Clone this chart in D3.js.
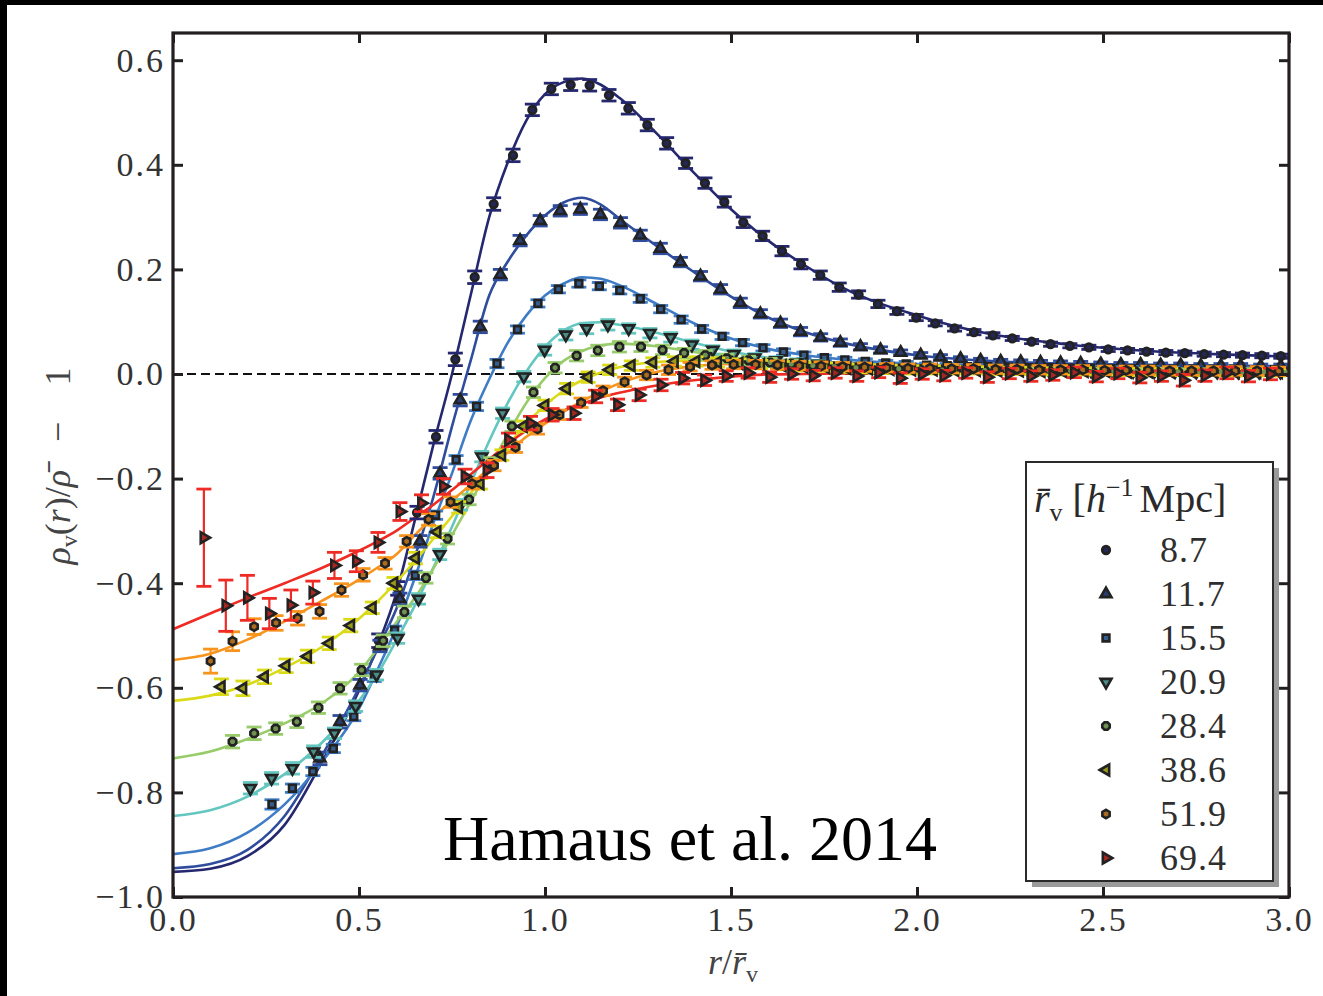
<!DOCTYPE html>
<html>
<head>
<meta charset="utf-8">
<script src="https://cdn.jsdelivr.net/npm/d3@7"></script>
<style>
  body { margin: 0; background: #fff; }
  svg { display: block; }
  text { font-family: 'Liberation Serif', 'DejaVu Serif', serif; }
</style>
</head>
<body>
<svg id="chart" width="1323" height="996"></svg>
<script>
// void radius bins (legend labels, h^-1 Mpc)
const voidRadii = ['8.7', '11.7', '15.5', '20.9', '28.4', '38.6', '51.9', '69.4'];

// axis ticks
const xTicks = [0, 0.5, 1.0, 1.5, 2.0, 2.5, 3.0];
const yTicks = [-1.0, -0.8, -0.6, -0.4, -0.2, 0.0, 0.2, 0.4, 0.6];

// fitted profiles on a common r/rv grid
const fitR = [0, 0.1, 0.2, 0.3, 0.4, 0.5, 0.55, 0.6, 0.65, 0.7, 0.75, 0.8, 0.85, 0.9, 0.95, 1.0,
  1.05, 1.1, 1.15, 1.2, 1.3, 1.4, 1.5, 1.6, 1.7, 1.8, 2.0, 2.2, 2.4, 2.6, 2.8, 3.0];
const fit87 = [-0.952, -0.946, -0.922, -0.862, -0.742, -0.605, -0.52, -0.42, -0.28, -0.135, 0.0, 0.15, 0.30, 0.405, 0.485, 0.535,
  0.558, 0.565, 0.553, 0.528, 0.46, 0.385, 0.315, 0.255, 0.207, 0.165, 0.112, 0.076, 0.057, 0.045, 0.038, 0.033];
const fit117 = [-0.945, -0.937, -0.91, -0.845, -0.73, -0.6, -0.525, -0.45, -0.35, -0.235, -0.1, 0.025, 0.15, 0.215, 0.265, 0.303,
  0.328, 0.337, 0.324, 0.297, 0.245, 0.195, 0.148, 0.108, 0.08, 0.06, 0.036, 0.025, 0.02, 0.018, 0.016, 0.015];
const fit155 = [-0.918, -0.907, -0.877, -0.823, -0.742, -0.64, -0.565, -0.485, -0.39, -0.285, -0.19, -0.09, -0.01, 0.06, 0.112, 0.15,
  0.173, 0.185, 0.182, 0.17, 0.134, 0.097, 0.068, 0.048, 0.036, 0.028, 0.019, 0.014, 0.012, 0.01, 0.009, 0.008];
const fit209 = [-0.845, -0.834, -0.808, -0.765, -0.705, -0.625, -0.573, -0.51, -0.443, -0.37, -0.292, -0.21, -0.128, -0.055, 0.005, 0.052,
  0.083, 0.097, 0.099, 0.094, 0.079, 0.06, 0.043, 0.031, 0.023, 0.018, 0.012, 0.009, 0.007, 0.006, 0.005, 0.005];
const fit284 = [-0.735, -0.722, -0.698, -0.668, -0.63, -0.57, -0.525, -0.475, -0.428, -0.372, -0.308, -0.245, -0.18, -0.115, -0.055, -0.008,
  0.025, 0.044, 0.055, 0.058, 0.053, 0.042, 0.031, 0.023, 0.018, 0.014, 0.01, 0.007, 0.006, 0.005, 0.004, 0.004];
const fit386 = [-0.625, -0.615, -0.594, -0.562, -0.522, -0.468, -0.435, -0.398, -0.358, -0.315, -0.272, -0.228, -0.183, -0.138, -0.095, -0.06,
  -0.032, -0.012, 0.003, 0.013, 0.023, 0.026, 0.025, 0.021, 0.017, 0.014, 0.01, 0.007, 0.006, 0.005, 0.004, 0.004];
const fit519 = [-0.547, -0.535, -0.508, -0.473, -0.434, -0.393, -0.37, -0.345, -0.308, -0.274, -0.242, -0.212, -0.18, -0.15, -0.12, -0.095,
  -0.072, -0.052, -0.034, -0.018, 0.004, 0.015, 0.019, 0.019, 0.017, 0.015, 0.012, 0.01, 0.008, 0.007, 0.006, 0.006];
const fit694 = [-0.488, -0.458, -0.428, -0.4, -0.371, -0.338, -0.32, -0.3, -0.275, -0.25, -0.222, -0.192, -0.163, -0.134, -0.108, -0.087,
  -0.07, -0.057, -0.045, -0.036, -0.022, -0.012, -0.005, -0.001, 0.0, 0.001, 0.002, 0.002, 0.002, 0.002, 0.002, 0.002];

// measured profiles: bin centres, density contrast, 1-sigma errors
const r87 = [0.553, 0.604, 0.656, 0.707, 0.759, 0.811, 0.862, 0.914, 0.966, 1.017, 1.069, 1.120, 1.172, 1.224, 1.275, 1.327,
  1.378, 1.430, 1.482, 1.533, 1.585, 1.637, 1.688, 1.740, 1.791, 1.843, 1.895, 1.946, 1.998, 2.049, 2.101, 2.153,
  2.204, 2.256, 2.308, 2.359, 2.411, 2.462, 2.514, 2.566, 2.617, 2.669, 2.720, 2.772, 2.824, 2.875, 2.927, 2.978];
const d87 = [-0.51, -0.41, -0.265, -0.12, 0.028, 0.185, 0.325, 0.418, 0.505, 0.545, 0.553, 0.552, 0.533, 0.508, 0.476, 0.441,
  0.403, 0.365, 0.329, 0.29, 0.264, 0.235, 0.21, 0.189, 0.166, 0.152, 0.134, 0.12, 0.108, 0.097, 0.087, 0.08,
  0.074, 0.068, 0.062, 0.057, 0.054, 0.051, 0.047, 0.045, 0.043, 0.041, 0.04, 0.038, 0.037, 0.036, 0.035, 0.034];
const e87 = [0.013, 0.013, 0.012, 0.012, 0.012, 0.012, 0.012, 0.012, 0.011, 0.011, 0.011, 0.011, 0.011, 0.011, 0.011, 0.011,
  0.01, 0.01, 0.01, 0.01, 0.009, 0.009, 0.009, 0.008, 0.008, 0.007, 0.007, 0.006, 0.006, 0.005, 0.005, 0.005,
  0.005, 0.004, 0.004, 0.004, 0.004, 0.004, 0.004, 0.004, 0.004, 0.004, 0.004, 0.004, 0.004, 0.004, 0.004, 0.004];

const r117 = [0.395, 0.449, 0.503, 0.556, 0.610, 0.664, 0.718, 0.772, 0.826, 0.880, 0.933, 0.987, 1.041, 1.095, 1.149, 1.203,
  1.256, 1.310, 1.364, 1.418, 1.472, 1.525, 1.579, 1.633, 1.687, 1.741, 1.794, 1.848, 1.902, 1.956, 2.010, 2.063,
  2.117, 2.171, 2.225, 2.279, 2.332, 2.386, 2.440, 2.494, 2.548, 2.601, 2.655, 2.709, 2.763, 2.817, 2.870, 2.924, 2.978];
const d117 = [-0.735, -0.665, -0.595, -0.52, -0.43, -0.32, -0.19, -0.05, 0.09, 0.19, 0.255, 0.293, 0.312, 0.315, 0.305, 0.289,
  0.265, 0.24, 0.214, 0.187, 0.162, 0.136, 0.115, 0.097, 0.081, 0.07, 0.06, 0.052, 0.046, 0.041, 0.036, 0.032,
  0.029, 0.026, 0.024, 0.023, 0.022, 0.021, 0.02, 0.019, 0.018, 0.018, 0.017, 0.017, 0.016, 0.016, 0.016, 0.015, 0.015];
const e117 = [0.012, 0.012, 0.011, 0.011, 0.011, 0.011, 0.011, 0.011, 0.011, 0.01, 0.01, 0.01, 0.01, 0.01, 0.01, 0.01,
  0.01, 0.01, 0.009, 0.009, 0.009, 0.009, 0.008, 0.008, 0.008, 0.007, 0.007, 0.006, 0.006, 0.005, 0.005, 0.005,
  0.004, 0.004, 0.004, 0.004, 0.004, 0.004, 0.004, 0.004, 0.004, 0.004, 0.004, 0.004, 0.004, 0.004, 0.004, 0.004, 0.004];

const r155 = [0.266, 0.321, 0.376, 0.431, 0.486, 0.541, 0.596, 0.651, 0.706, 0.761, 0.816, 0.871, 0.926, 0.981, 1.036, 1.091,
  1.146, 1.201, 1.256, 1.311, 1.366, 1.421, 1.476, 1.531, 1.586, 1.641, 1.696, 1.751, 1.806, 1.861, 1.916, 1.971,
  2.026, 2.081, 2.136, 2.191, 2.246, 2.301, 2.356, 2.411, 2.466, 2.521, 2.576, 2.631, 2.686, 2.741, 2.796, 2.851, 2.906, 2.961];
const d155 = [-0.823, -0.792, -0.76, -0.716, -0.655, -0.58, -0.49, -0.385, -0.27, -0.164, -0.062, 0.02, 0.085, 0.135, 0.162, 0.173,
  0.168, 0.16, 0.144, 0.124, 0.104, 0.086, 0.072, 0.06, 0.05, 0.042, 0.036, 0.031, 0.027, 0.024, 0.021, 0.019,
  0.017, 0.016, 0.014, 0.014, 0.013, 0.012, 0.012, 0.011, 0.011, 0.01, 0.01, 0.01, 0.009, 0.009, 0.009, 0.009, 0.008, 0.008];
const e155 = [0.009, 0.008, 0.008, 0.008, 0.008, 0.008, 0.008, 0.008, 0.008, 0.008, 0.008, 0.008, 0.007, 0.007, 0.007, 0.007,
  0.007, 0.007, 0.007, 0.007, 0.007, 0.007, 0.006, 0.006, 0.006, 0.006, 0.006, 0.005, 0.005, 0.005, 0.005, 0.005,
  0.004, 0.004, 0.004, 0.004, 0.004, 0.004, 0.004, 0.004, 0.004, 0.004, 0.004, 0.004, 0.004, 0.004, 0.004, 0.004, 0.004, 0.004];

const r209 = [0.208, 0.265, 0.321, 0.378, 0.434, 0.491, 0.547, 0.604, 0.660, 0.717, 0.773, 0.830, 0.886, 0.943, 0.999, 1.056,
  1.112, 1.169, 1.225, 1.282, 1.338, 1.395, 1.451, 1.508, 1.564, 1.621, 1.677, 1.734, 1.790, 1.847, 1.903, 1.960,
  2.016, 2.073, 2.129, 2.186, 2.242, 2.299, 2.355, 2.412, 2.468, 2.525, 2.581, 2.638, 2.694, 2.751, 2.807, 2.864, 2.920, 2.977];
const d209 = [-0.792, -0.773, -0.754, -0.722, -0.687, -0.635, -0.575, -0.505, -0.43, -0.345, -0.25, -0.158, -0.075, -0.005, 0.046, 0.075,
  0.087, 0.094, 0.087, 0.078, 0.07, 0.056, 0.046, 0.038, 0.031, 0.026, 0.022, 0.019, 0.016, 0.014, 0.012, 0.011,
  0.01, 0.009, 0.008, 0.008, 0.007, 0.007, 0.006, 0.006, 0.006, 0.005, 0.005, 0.005, 0.005, 0.004, 0.004, 0.004, 0.004, 0.004];
const e209 = [0.011, 0.011, 0.011, 0.011, 0.01, 0.01, 0.01, 0.01, 0.01, 0.01, 0.01, 0.01, 0.01, 0.01, 0.01, 0.01,
  0.01, 0.01, 0.009, 0.009, 0.009, 0.009, 0.008, 0.008, 0.008, 0.007, 0.007, 0.007, 0.006, 0.006, 0.006, 0.005,
  0.005, 0.005, 0.005, 0.005, 0.005, 0.005, 0.005, 0.005, 0.005, 0.005, 0.005, 0.005, 0.005, 0.005, 0.005, 0.005, 0.005, 0.005];

const r284 = [0.160, 0.218, 0.276, 0.333, 0.391, 0.449, 0.507, 0.565, 0.622, 0.680, 0.738, 0.796, 0.854, 0.911, 0.969, 1.027,
  1.085, 1.142, 1.200, 1.258, 1.316, 1.374, 1.431, 1.489, 1.547, 1.605, 1.662, 1.720, 1.778, 1.836, 1.894, 1.951,
  2.009, 2.067, 2.125, 2.182, 2.240, 2.298, 2.356, 2.413, 2.471, 2.529, 2.587, 2.644, 2.702, 2.760, 2.818, 2.876, 2.933, 2.991];
const d284 = [-0.703, -0.687, -0.678, -0.665, -0.638, -0.601, -0.566, -0.51, -0.455, -0.39, -0.315, -0.24, -0.17, -0.1, -0.035, 0.012,
  0.035, 0.045, 0.052, 0.052, 0.046, 0.04, 0.036, 0.03, 0.026, 0.022, 0.019, 0.016, 0.014, 0.012, 0.011, 0.01,
  0.009, 0.008, 0.008, 0.007, 0.007, 0.006, 0.006, 0.006, 0.005, 0.005, 0.005, 0.005, 0.004, 0.004, 0.004, 0.004, 0.004, 0.004];
const e284 = [0.012, 0.012, 0.011, 0.011, 0.011, 0.011, 0.011, 0.011, 0.011, 0.01, 0.01, 0.01, 0.01, 0.01, 0.01, 0.01,
  0.01, 0.01, 0.01, 0.009, 0.009, 0.009, 0.009, 0.008, 0.008, 0.008, 0.008, 0.007, 0.007, 0.007, 0.006, 0.006,
  0.006, 0.006, 0.006, 0.006, 0.006, 0.006, 0.006, 0.006, 0.006, 0.006, 0.006, 0.006, 0.006, 0.006, 0.006, 0.006, 0.006, 0.006];

const r386 = [0.130, 0.188, 0.246, 0.304, 0.362, 0.420, 0.478, 0.536, 0.594, 0.652, 0.710, 0.768, 0.826, 0.884, 0.942, 1.000,
  1.058, 1.116, 1.174, 1.232, 1.290, 1.348, 1.406, 1.464, 1.522, 1.580, 1.638, 1.696, 1.754, 1.812, 1.870, 1.928,
  1.986, 2.044, 2.102, 2.160, 2.218, 2.276, 2.334, 2.392, 2.450, 2.508, 2.566, 2.624, 2.682, 2.740, 2.798, 2.856, 2.914, 2.972];
const d386 = [-0.598, -0.601, -0.579, -0.558, -0.54, -0.515, -0.481, -0.447, -0.4, -0.352, -0.302, -0.255, -0.21, -0.155, -0.1, -0.06,
  -0.028, -0.006, 0.008, 0.016, 0.022, 0.024, 0.024, 0.022, 0.02, 0.018, 0.016, 0.014, 0.013, 0.011, 0.01, 0.009,
  0.008, 0.008, 0.007, 0.007, 0.006, 0.006, 0.005, 0.005, 0.005, 0.005, 0.004, 0.004, 0.004, 0.004, 0.004, 0.003, 0.003, 0.003];
const e386 = [0.015, 0.014, 0.013, 0.013, 0.012, 0.012, 0.012, 0.011, 0.011, 0.011, 0.011, 0.011, 0.01, 0.01, 0.01, 0.01,
  0.01, 0.01, 0.009, 0.009, 0.009, 0.009, 0.009, 0.009, 0.009, 0.008, 0.008, 0.008, 0.008, 0.008, 0.008, 0.008,
  0.008, 0.008, 0.007, 0.007, 0.007, 0.007, 0.007, 0.007, 0.007, 0.007, 0.007, 0.007, 0.007, 0.007, 0.007, 0.007, 0.007, 0.007];

const r519 = [0.101, 0.160, 0.218, 0.277, 0.335, 0.394, 0.453, 0.511, 0.570, 0.628, 0.687, 0.746, 0.804, 0.863, 0.921, 0.980,
  1.039, 1.097, 1.156, 1.214, 1.273, 1.332, 1.390, 1.449, 1.507, 1.566, 1.625, 1.683, 1.742, 1.800, 1.859, 1.918,
  1.976, 2.035, 2.093, 2.152, 2.211, 2.269, 2.328, 2.386, 2.445, 2.504, 2.562, 2.621, 2.679, 2.738, 2.797, 2.855, 2.914, 2.972];
const d519 = [-0.549, -0.511, -0.483, -0.476, -0.467, -0.454, -0.413, -0.384, -0.362, -0.32, -0.278, -0.245, -0.21, -0.175, -0.14, -0.105,
  -0.078, -0.055, -0.032, -0.015, -0.002, 0.008, 0.014, 0.017, 0.018, 0.018, 0.017, 0.016, 0.015, 0.014, 0.013, 0.012,
  0.011, 0.011, 0.01, 0.01, 0.009, 0.009, 0.008, 0.008, 0.008, 0.007, 0.007, 0.007, 0.006, 0.006, 0.006, 0.006, 0.006, 0.005];
const e519 = [0.023, 0.018, 0.015, 0.014, 0.013, 0.013, 0.012, 0.012, 0.011, 0.011, 0.011, 0.01, 0.01, 0.01, 0.01, 0.01,
  0.009, 0.009, 0.009, 0.009, 0.009, 0.009, 0.008, 0.008, 0.008, 0.008, 0.008, 0.008, 0.008, 0.008, 0.008, 0.008,
  0.008, 0.008, 0.008, 0.008, 0.008, 0.008, 0.008, 0.008, 0.008, 0.008, 0.008, 0.008, 0.008, 0.008, 0.008, 0.008, 0.008, 0.008];

const r694 = [0.083, 0.142, 0.200, 0.259, 0.317, 0.376, 0.434, 0.493, 0.551, 0.610, 0.668, 0.727, 0.785, 0.844, 0.902, 0.961,
  1.019, 1.078, 1.136, 1.195, 1.253, 1.312, 1.370, 1.429, 1.487, 1.546, 1.604, 1.663, 1.721, 1.780, 1.838, 1.897,
  1.955, 2.014, 2.072, 2.131, 2.189, 2.248, 2.306, 2.365, 2.423, 2.482, 2.540, 2.599, 2.657, 2.716, 2.774, 2.833, 2.891, 2.950];
const d694 = [-0.313, -0.443, -0.428, -0.458, -0.442, -0.418, -0.366, -0.358, -0.322, -0.263, -0.247, -0.215, -0.196, -0.184, -0.126, -0.094,
  -0.078, -0.075, -0.043, -0.059, -0.04, -0.021, -0.008, -0.012, -0.004, 0.002, -0.006, 0.0, -0.003, 0.002, -0.004, 0.003,
  -0.008, 0.0, -0.003, 0.002, -0.006, 0.001, -0.004, -0.002, 0.003, -0.005, 0.001, -0.007, -0.004, -0.012, -0.003, 0.002, -0.004, 0.0];
const e694 = [0.093, 0.049, 0.043, 0.029, 0.029, 0.022, 0.025, 0.02, 0.019, 0.017, 0.016, 0.015, 0.014, 0.014, 0.013, 0.013,
  0.012, 0.012, 0.012, 0.011, 0.011, 0.011, 0.011, 0.01, 0.01, 0.01, 0.01, 0.01, 0.01, 0.01, 0.01, 0.01,
  0.01, 0.01, 0.01, 0.01, 0.01, 0.01, 0.01, 0.01, 0.01, 0.01, 0.01, 0.01, 0.01, 0.011, 0.011, 0.011, 0.011, 0.011];

// styles, one per bin
const seriesColors = ['#25286f', '#2f4c9d', '#3f7cc6', '#63c6bf', '#98cc6a', '#dada18', '#f7941d', '#ee2b24'];
const markerShapes = ['circle', 'triUp', 'square', 'triDown', 'octagon', 'triLeft', 'hexagon', 'triRight'];

const fits = [fit87, fit117, fit155, fit209, fit284, fit386, fit519, fit694];
const radii = [r87, r117, r155, r209, r284, r386, r519, r694];
const deltas = [d87, d117, d155, d209, d284, d386, d519, d694];
const errors = [e87, e117, e155, e209, e284, e386, e519, e694];

const series = voidRadii.map((label, i) => ({
  label: label,
  color: seriesColors[i],
  shape: markerShapes[i],
  fit: fitR.map((r, j) => ({r: r, d: fits[i][j]})),
  points: radii[i].map((r, j) => ({r: r, d: deltas[i][j], e: errors[i][j]})),
}));

const svg = d3.select('#chart');
const width = 1323;
const height = 996;

const plot = {left: 173, right: 1289, top: 33, bottom: 897};

const x = d3.scaleLinear().domain([0, 3]).range([plot.left, plot.right]);
const y = d3.scaleLinear().domain([-1.0, 0.652]).range([plot.bottom, plot.top]);

svg.append('rect').attr('width', width).attr('height', height).attr('fill', '#fff');
// black strips along the top and left edge of the picture
svg.append('rect').attr('x', 0).attr('y', 0).attr('width', width).attr('height', 5).attr('fill', '#000');
svg.append('rect').attr('x', 0).attr('y', 0).attr('width', 7).attr('height', height).attr('fill', '#000');

svg.append('defs').append('clipPath').attr('id', 'plotClip')
    .append('rect')
    .attr('x', plot.left).attr('y', plot.top)
    .attr('width', plot.right - plot.left).attr('height', plot.bottom - plot.top);

const inner = svg.append('g').attr('clip-path', 'url(#plotClip)');

// zero line
inner.append('line')
    .attr('x1', x(0)).attr('x2', x(3))
    .attr('y1', y(0)).attr('y2', y(0))
    .attr('stroke', '#111')
    .attr('stroke-width', 2.2)
    .attr('stroke-dasharray', '9,5');

// fitted curves
const line = d3.line()
    .x((d) => x(d.r))
    .y((d) => y(d.d))
    .curve(d3.curveMonotoneX);

inner.selectAll('.fit')
    .data(series)
    .enter()
    .append('path')
    .attr('class', 'fit')
    .attr('d', (s) => line(s.fit))
    .attr('fill', 'none')
    .attr('stroke', (s) => s.color)
    .attr('stroke-width', 2.6);

// custom polygon symbols for octagon / hexagon markers
function polygonSymbol(n, rot) {
  return {
    draw(ctx, size) {
      const rad = Math.sqrt(size / (n / 2 * Math.sin(2 * Math.PI / n)));
      for (let k = 0; k < n; k++) {
        const a = rot + k * 2 * Math.PI / n;
        const px = rad * Math.cos(a);
        const py = rad * Math.sin(a);
        if (k === 0) ctx.moveTo(px, py); else ctx.lineTo(px, py);
      }
      ctx.closePath();
    },
  };
}

const shapeDefs = {
  circle: {type: d3.symbolCircle, rot: 0, size: 46},
  triUp: {type: d3.symbolTriangle, rot: 0, size: 52},
  square: {type: d3.symbolSquare, rot: 0, size: 46},
  triDown: {type: d3.symbolTriangle, rot: 180, size: 52},
  octagon: {type: polygonSymbol(8, Math.PI / 8), rot: 0, size: 46},
  triLeft: {type: d3.symbolTriangle, rot: -90, size: 52},
  hexagon: {type: polygonSymbol(6, -Math.PI / 2), rot: 0, size: 46},
  triRight: {type: d3.symbolTriangle, rot: 90, size: 52},
};

function markerPath(shape) {
  const def = shapeDefs[shape];
  return d3.symbol().type(def.type).size(def.size)();
}

// markers are drawn with a heavy dark edge, so only a little colour shows
function markerFill(c) {
  return d3.interpolateRgb(c, '#222')(0.35);
}

const capHalf = 7.5;

series.forEach(function(s) {
  const g = inner.append('g').attr('class', 'series');
  const pts = g.selectAll('.pt')
      .data(s.points)
      .enter()
      .append('g')
      .attr('class', 'pt');

  pts.append('line')
      .attr('x1', (d) => x(d.r)).attr('x2', (d) => x(d.r))
      .attr('y1', (d) => y(d.d - d.e)).attr('y2', (d) => y(d.d + d.e))
      .attr('stroke', s.color)
      .attr('stroke-width', 2.2);

  [1, -1].forEach(function(sign) {
    pts.append('line')
        .attr('x1', (d) => x(d.r) - capHalf).attr('x2', (d) => x(d.r) + capHalf)
        .attr('y1', (d) => y(d.d + sign * d.e)).attr('y2', (d) => y(d.d + sign * d.e))
        .attr('stroke', s.color)
        .attr('stroke-width', 2.8);
  });

  pts.append('path')
      .attr('d', markerPath(s.shape))
      .attr('transform', (d) => 'translate(' + x(d.r) + ',' + y(d.d) + ') rotate(' + shapeDefs[s.shape].rot + ')')
      .attr('fill', markerFill(s.color))
      .attr('stroke', '#222')
      .attr('stroke-width', 2.6);
});

// axes: inward ticks on all four sides
const tickColor = '#231f20';
const fmt = d3.format('.1f');

const xAxis = svg.append('g')
    .attr('transform', 'translate(0,' + plot.bottom + ')')
    .call(d3.axisBottom(x).tickValues(xTicks).tickSizeInner(-10).tickSizeOuter(0).tickPadding(10).tickFormat(fmt));

const yAxis = svg.append('g')
    .attr('transform', 'translate(' + plot.left + ',0)')
    .call(d3.axisLeft(y).tickValues(yTicks).tickSizeInner(-10).tickSizeOuter(0).tickPadding(8).tickFormat(fmt));

const topAxis = svg.append('g')
    .attr('transform', 'translate(0,' + plot.top + ')')
    .call(d3.axisTop(x).tickValues(xTicks).tickSizeInner(-10).tickSizeOuter(0).tickFormat(''));

const rightAxis = svg.append('g')
    .attr('transform', 'translate(' + plot.right + ',0)')
    .call(d3.axisRight(y).tickValues(yTicks).tickSizeInner(-10).tickSizeOuter(0).tickFormat(''));

[xAxis, yAxis, topAxis, rightAxis].forEach(function(ax) {
  ax.select('.domain').remove();
  ax.selectAll('.tick line').attr('stroke', tickColor).attr('stroke-width', 3);
  ax.selectAll('.tick text')
      .attr('fill', '#333')
      .style('font-family', "'Liberation Serif', serif")
      .style('font-size', '34px')
      .style('letter-spacing', '2px');
});

// frame
svg.append('rect')
    .attr('x', plot.left).attr('y', plot.top)
    .attr('width', plot.right - plot.left).attr('height', plot.bottom - plot.top)
    .attr('fill', 'none')
    .attr('stroke', tickColor)
    .attr('stroke-width', 3.2);

// axis labels
const yLabel = svg.append('text')
    .attr('transform', 'translate(70,466) rotate(-90)')
    .attr('text-anchor', 'middle')
    .attr('fill', '#444')
    .style('font-size', '36px')
    .style('white-space', 'pre');
yLabel.append('tspan').style('font-style', 'italic').text('ρ');
yLabel.append('tspan').attr('dy', 7).style('font-size', '24px').text('v');
yLabel.append('tspan').attr('dy', -7).text('(');
yLabel.append('tspan').style('font-style', 'italic').text('r');
yLabel.append('tspan').text(')/');
yLabel.append('tspan').style('font-style', 'italic').text('ρ\u0304');
yLabel.append('tspan').attr('dx', 28).text('−');
yLabel.append('tspan').attr('dx', 36).text('1');

const xLabel = svg.append('text')
    .attr('x', 733).attr('y', 974)
    .attr('text-anchor', 'middle')
    .attr('fill', '#444')
    .style('font-size', '36px');
xLabel.append('tspan').style('font-style', 'italic').text('r');
xLabel.append('tspan').text('/');
xLabel.append('tspan').style('font-style', 'italic').text('r\u0304');
xLabel.append('tspan').attr('dy', 8).style('font-size', '24px').text('v');

// annotation
svg.append('text')
    .attr('x', 443).attr('y', 860)
    .attr('fill', '#000')
    .style('font-family', "'Liberation Serif', 'Times New Roman', serif")
    .style('font-size', '64px')
    .text('Hamaus et al. 2014');

// legend
const legend = svg.append('g').attr('class', 'legend');
const box = {x: 1026, y: 462, w: 247, h: 419};

legend.append('rect')
    .attr('x', box.x + 6).attr('y', box.y + 6)
    .attr('width', box.w).attr('height', box.h)
    .attr('fill', '#9a9a9a');
legend.append('rect')
    .attr('x', box.x).attr('y', box.y)
    .attr('width', box.w).attr('height', box.h)
    .attr('fill', '#fff')
    .attr('stroke', '#2a2a2a')
    .attr('stroke-width', 2);

const title = legend.append('text')
    .attr('x', 1034).attr('y', 512)
    .attr('fill', '#2a2a2a')
    .style('font-size', '40px')
    .style('white-space', 'pre');
title.append('tspan').style('font-style', 'italic').text('r\u0304');
title.append('tspan').attr('dy', 9).style('font-size', '26px').text('v');
title.append('tspan').attr('dy', -9).text(' [');
title.append('tspan').style('font-style', 'italic').text('h');
title.append('tspan').attr('dy', -16).style('font-size', '26px').text('−1');
title.append('tspan').attr('dy', 16).attr('dx', 6).text('Mpc]');

const rowY = d3.scaleLinear().domain([0, 7]).range([550, 858]);

const rows = legend.selectAll('.row')
    .data(series)
    .enter()
    .append('g')
    .attr('class', 'row')
    .attr('transform', (s, i) => 'translate(0,' + rowY(i) + ')');

rows.append('path')
    .attr('d', (s) => markerPath(s.shape))
    .attr('transform', (s) => 'translate(1106,0) rotate(' + shapeDefs[s.shape].rot + ')')
    .attr('fill', (s) => markerFill(s.color))
    .attr('stroke', '#222')
    .attr('stroke-width', 2.6);

rows.append('text')
    .attr('x', 1160).attr('y', 12)
    .attr('fill', '#2f2f2f')
    .style('font-size', '36px')
    .style('letter-spacing', '1px')
    .text((s) => s.label);
</script>
</body>
</html>
